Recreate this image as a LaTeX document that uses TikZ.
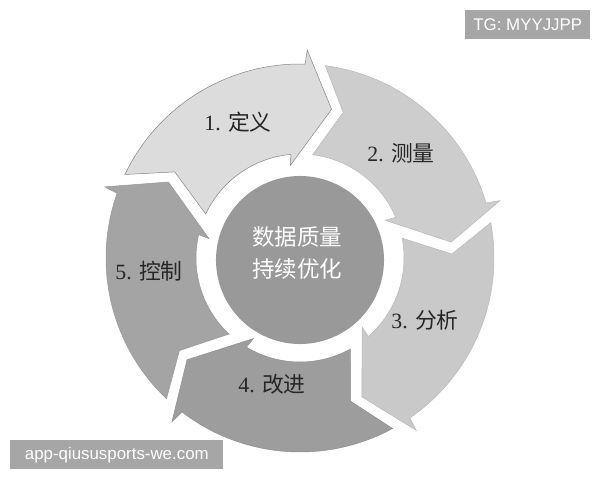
\documentclass[tikz,border=0pt]{standalone}
\usepackage{fontspec}
\setmainfont{Liberation Serif}
\setsansfont{Liberation Sans}
\newfontfamily\cjk{Noto Sans CJK SC}
\usetikzlibrary{positioning}

\definecolor{stepA}{HTML}{DCDCDC}
\definecolor{stepB}{HTML}{CDCDCD}
\definecolor{stepC}{HTML}{C9C9C9}
\definecolor{stepD}{HTML}{9D9D9D}
\definecolor{stepE}{HTML}{A4A4A4}
\definecolor{hubgray}{HTML}{999999}
\definecolor{tagbg}{HTML}{A6A6A6}

\tikzset{
  arrowpart/.style={line width=0.35pt, line join=miter},
  steplabel/.style={font=\fontsize{15.5}{18}\selectfont, text=black!85, inner sep=0pt},
  hubdisc/.style={circle, fill=hubgray, minimum size=4.2cm, inner sep=0pt},
  hubtext/.style={font=\cjk\fontsize{16}{23}\selectfont, text=white, align=center, inner sep=0pt},
  tagbox/.style={fill=tagbg, text=white, font=\sffamily\fontsize{12}{14}\selectfont,
    anchor=north west, minimum height=0.725cm, inner sep=0pt}
}

% one curved arrow of the ring, #1 = angle of its head, #2 = fill, #3 = outline
\newcommand{\cyclearrow}[3]{%
  \filldraw[arrowpart, fill=#2, draw=#3]
    ({#1+66.5}:194) arc[start angle={#1+66.5}, end angle={#1+0.5}, radius=194]
    -- (#1:208) -- ({#1-10}:152) -- ({#1+8}:93) -- ({#1+7}:104)
    arc[start angle={#1+7}, end angle={#1+67}, radius=104]
    -- ({#1+57.5}:152) -- cycle;}

\begin{document}
\begin{tikzpicture}[x=0.025cm, y=0.025cm]
	\useasboundingbox (0,0) rectangle (600,-480);

	\begin{scope}[shift={(300,-258)}]
		\foreach \h/\c/\o in {88/stepA/stepA!60!black, 16/stepB/stepB!90!black,
				-56/stepC/stepC!92!black, -128/stepD/stepD!92!black, -200/stepE/stepE!92!black}
			\cyclearrow{\h}{\c}{\o};
	\end{scope}

	\node[hubdisc] (hub) at (300,-260) {};
	\node[hubtext] (hubtxt) at (297,-253) {数据质量\\持续优化};

	\node[steplabel] (define) at (238,-122) {1. {\cjk 定义}};
	\node[steplabel] (measure) at (401,-153) {2. {\cjk 测量}};
	\node[steplabel] (analyse) at (425,-320) {3. {\cjk 分析}};
	\node[steplabel] (improve) at (272,-384) {4. {\cjk 改进}};
	\node[steplabel] (control) at (149,-271) {5. {\cjk 控制}};

	\node[tagbox, minimum width=3.125cm] (tg) at (465,-10) {TG: MYYJJPP};
	\node[tagbox, minimum width=5.325cm] (site) at (10,-440) {app-qiususports-we.com};
\end{tikzpicture}
\end{document}
